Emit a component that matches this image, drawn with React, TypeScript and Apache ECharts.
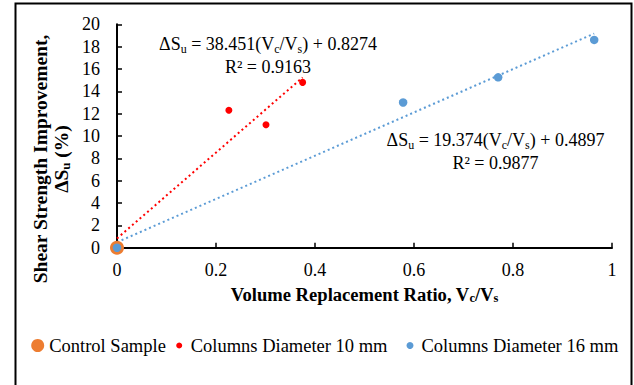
import React, { useEffect, useRef } from "react";
import * as echarts from "echarts";

const FONT = "Times New Roman";

// Data
const controlX = [0];
const controlY = [0];
const dia10X = [0, 0.226, 0.301, 0.375];
const dia10Y = [0, 12.3, 11.0, 14.8];
const dia16X = [0, 0.578, 0.77, 0.964];
const dia16Y = [0, 13.0, 15.25, 18.6];
// Trendline coefficients shown on the chart: [slope, intercept]
const fit10 = [38.451, 0.8274];
const fit16 = [19.374, 0.4897];
const seriesNames = ["Control Sample", "Columns Diameter 10 mm", "Columns Diameter 16 mm"];
const xTicks = [0, 0.2, 0.4, 0.6, 0.8, 1];
const yTicks = [0, 2, 4, 6, 8, 10, 12, 14, 16, 18, 20];

const pairs = (xs: number[], ys: number[]) => xs.map((x, i) => [x, ys[i]]);
const trend = (xs: number[], fit: number[]) => {
  const x1 = Math.max(...xs);
  return [
    [0, fit[1]],
    [x1, fit[0] * x1 + fit[1]],
  ];
};

const rich = {
  m: { fontFamily: FONT, fontSize: 18, color: "#000", lineHeight: 23, verticalAlign: "middle" },
  s: { fontFamily: FONT, fontSize: 12, color: "#000", lineHeight: 23, verticalAlign: "bottom" },
};
const richBoldX = {
  m: { fontFamily: FONT, fontSize: 18.6, fontWeight: "bold", color: "#000", lineHeight: 20, verticalAlign: "middle" },
  s: { fontFamily: FONT, fontSize: 12.5, fontWeight: "bold", color: "#000", lineHeight: 20, verticalAlign: "bottom" },
};
const richBoldY = {
  m: { fontFamily: FONT, fontSize: 19.5, fontWeight: "bold", color: "#000", lineHeight: 20.5, verticalAlign: "middle" },
  s: { fontFamily: FONT, fontSize: 13, fontWeight: "bold", color: "#000", lineHeight: 20.5, verticalAlign: "bottom" },
};

export default function App() {
  const ref = useRef<HTMLDivElement>(null);
  useEffect(() => {
    if (!ref.current) return;
    const chart = echarts.init(ref.current, null, { renderer: "svg" });
    const legendBase = {
      orient: "horizontal",
      padding: 0,
      itemWidth: 13,
      itemGap: 0,
      itemTextGap: 3,
      textStyle: { fontFamily: FONT, fontSize: 18.5, color: "#000" },
    };
    chart.setOption({
      animation: false,
      backgroundColor: "#fff",
      textStyle: { fontFamily: FONT, color: "#000" },
      grid: { left: 117, right: 22, top: 24.3, bottom: 137.3 },
      xAxis: {
        type: "value",
        min: 0,
        max: 1,
        interval: 0.2,
        splitLine: { show: false },
        axisLine: { lineStyle: { color: "#000", width: 2 } },
        axisTick: { inside: true, length: 5, lineStyle: { color: "#000", width: 1.5 } },
        axisLabel: {
          fontFamily: FONT,
          fontSize: 18,
          color: "#000",
          margin: 13,
          formatter: (v: number) => String(xTicks.find((t) => Math.abs(t - v) < 1e-9) ?? v),
        },
        name: "{m|Volume Replacement Ratio, V}{s|c}{m|/V}{s|s}",
        nameLocation: "middle",
        nameGap: 37,
        nameTextStyle: { rich: richBoldX },
      },
      yAxis: {
        type: "value",
        min: 0,
        max: 20,
        interval: 2,
        splitLine: { show: false },
        axisLine: { lineStyle: { color: "#000", width: 2 } },
        axisTick: { inside: true, length: 5, lineStyle: { color: "#000", width: 1.5 } },
        axisLabel: {
          fontFamily: FONT,
          fontSize: 18,
          color: "#000",
          margin: 17,
          formatter: (v: number) => String(yTicks.find((t) => t === v) ?? v),
        },
      },
      legend: [
        { ...legendBase, left: 31.2, top: 336, itemHeight: 13, data: [{ name: seriesNames[0], icon: "circle" }] },
        { ...legendBase, left: 176.2, top: 336, itemHeight: 6, data: [{ name: seriesNames[1], icon: "circle" }] },
        { ...legendBase, left: 406.5, top: 336, itemHeight: 7, data: [{ name: seriesNames[2], icon: "circle" }] },
      ],
      graphic: [
        {
          type: "rect",
          shape: { x: 15.5, y: 3.5, width: 616, height: 400 },
          style: { fill: "none", stroke: "#000", lineWidth: 2 },
          silent: true,
        },
        {
          type: "text",
          x: 51,
          y: 159,
          rotation: Math.PI / 2,
          style: {
            text: "{m|Shear Strength Improvement,}\n{m|ΔS}{s|u}{m| (%)}",
            rich: richBoldY,
            align: "center",
            verticalAlign: "middle",
          },
        },
        {
          type: "text",
          x: 268,
          y: 55,
          style: {
            text: "{m|ΔS}{s|u}{m| = 38.451(V}{s|c}{m|/V}{s|s}{m|) + 0.8274}\n{m|R² = 0.9163}",
            rich,
            align: "center",
            verticalAlign: "middle",
          },
        },
        {
          type: "text",
          x: 495.5,
          y: 151,
          style: {
            text: "{m|ΔS}{s|u}{m| = 19.374(V}{s|c}{m|/V}{s|s}{m|) + 0.4897}\n{m|R² = 0.9877}",
            rich,
            align: "center",
            verticalAlign: "middle",
          },
        },
      ],
      series: [
        {
          name: "trend10",
          type: "line",
          data: trend(dia10X, fit10),
          symbol: "none",
          lineStyle: { color: "#FF0000", width: 2, type: [2, 3] },
          silent: true,
          z: 1,
        },
        {
          name: "trend16",
          type: "line",
          data: trend(dia16X, fit16),
          symbol: "none",
          lineStyle: { color: "#5B9BD5", width: 2, type: [2, 3] },
          silent: true,
          z: 1,
        },
        {
          name: seriesNames[0],
          type: "scatter",
          data: pairs(controlX, controlY),
          symbol: "circle",
          symbolSize: 14,
          itemStyle: { color: "#ED7D31", opacity: 1 },
          z: 2,
        },
        {
          name: seriesNames[1],
          type: "scatter",
          data: pairs(dia10X, dia10Y),
          symbol: "circle",
          symbolSize: 7,
          itemStyle: { color: "#FF0000", opacity: 1 },
          z: 3,
        },
        {
          name: seriesNames[2],
          type: "scatter",
          data: pairs(dia16X, dia16Y),
          symbol: "circle",
          symbolSize: 8.5,
          itemStyle: { color: "#5B9BD5", opacity: 1 },
          z: 4,
        },
      ],
    });
    return () => chart.dispose();
  }, []);
  return (
    <div
      ref={ref}
      style={{ position: "fixed", left: 0, top: 0, width: 634, height: 385, background: "#fff" }}
    />
  );
}
